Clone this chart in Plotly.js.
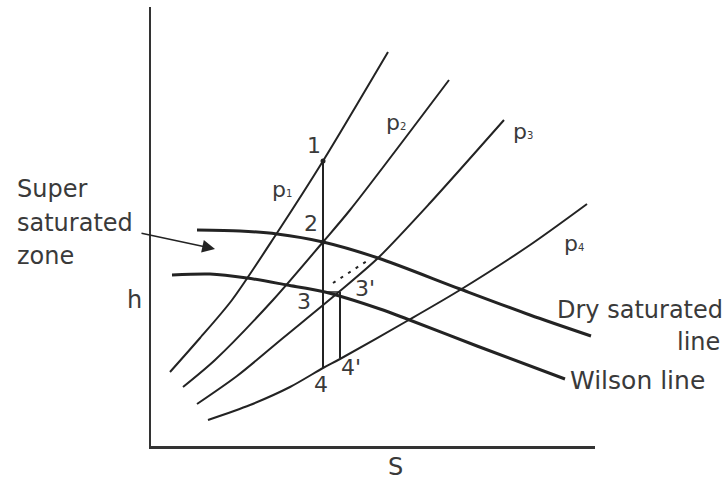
<!DOCTYPE html>
<html>
<head>
<meta charset="utf-8">
<script src="https://cdn.plot.ly/plotly-3.0.1.min.js"></script>
<style>html,body{margin:0;padding:0;background:#fff;}#chart{width:728px;height:480px;}</style>
</head>
<body>
<div id="chart"></div>
<script>
// Values (S = entropy, h = enthalpy, arbitrary units)
const p1S = [19, 49, 81, 126, 172, 237];
const p1H = [74, 108, 146, 213, 285, 394];
const p2S = [32, 64, 122, 172, 199, 298];
const p2H = [59, 86, 146, 204, 236, 366];
const p3S = [46, 86, 132, 189, 227, 279, 353];
const p3H = [42, 70, 108, 155, 188, 243, 326];
const p4S = [57, 99, 139, 172, 189, 256, 309, 379, 436];
const p4H = [26, 41, 59, 78, 87, 125, 156, 201, 242];
const drySatS = [46, 89, 126, 172, 227, 309, 379, 440];
const drySatH = [216, 215, 212, 204, 188, 157, 131, 110];
const wilsonS = [21, 59, 96, 136, 174, 229, 256, 326, 414];
const wilsonH = [171, 172, 168, 161, 154, 137, 127, 100, 67];
// process points
const statePts = {
  "1": [172, 285], "2": [172, 204], "3": [172, 154],
  "3'": [189, 154], "4": [172, 78], "4'": [189, 88]
};
const dashS = [182, 216];
const dashH = [163, 185];
// isobar label anchors (S, h) and subscripts
const pNames = ['1', '2', '3', '4'];
const pLabS = [128, 242, 369, 420];
const pLabH = [257, 323, 315, 203];
const S_MAX = 444, H_MAX = 439;

const ink = '#232323';
const txt = '#3a3a3a';
const FONT = 'DejaVu Sans, Arial, sans-serif';

function curve(x, y, w) {
  return {x: x, y: y, mode: 'lines', line: {color: ink, width: w, shape: 'spline', smoothing: 0.8}, hoverinfo: 'skip', showlegend: false};
}
function seg(a, b, w, dash) {
  return {x: [statePts[a][0], statePts[b][0]], y: [statePts[a][1], statePts[b][1]], mode: 'lines',
    line: {color: ink, width: w, dash: dash || 'solid'}, hoverinfo: 'skip', showlegend: false};
}

const traces = [
  curve(p1S, p1H, 2), curve(p2S, p2H, 2), curve(p3S, p3H, 2), curve(p4S, p4H, 2),
  curve(drySatS, drySatH, 3), curve(wilsonS, wilsonH, 3),
  seg("1", "4", 2), seg("3'", "4'", 2), seg("3", "3'", 1.5),
  {x: dashS, y: dashH, mode: 'lines', line: {color: ink, width: 2, dash: '3px,6px'}, hoverinfo: 'skip', showlegend: false},
  {x: [statePts["1"][0], statePts["2"][0]], y: [statePts["1"][1], statePts["2"][1]], mode: 'markers',
    marker: {color: ink, size: 5}, hoverinfo: 'skip', showlegend: false},
  {x: [514, 514], y: [94, 108], mode: 'lines', line: {color: '#e2e2e2', width: 1.5}, hoverinfo: 'skip', showlegend: false}
];

// labels placed in paper coordinates derived from (S, h) so they may sit outside the axes
function lab(text, s, h, size, xanchor) {
  return {text: text, x: s / S_MAX, y: h / H_MAX, xref: 'paper', yref: 'paper', showarrow: false,
    xanchor: xanchor || 'center', yanchor: 'middle', font: {family: FONT, size: size, color: txt}};
}

const annotations = [
  lab('1', 163, 301, 22), lab('2', 160, 222, 22), lab('3', 153, 145, 22),
  lab("3'", 214, 158, 22), lab('4', 170, 62, 22), lab("4'", 200, 79, 22),
  lab('Super', -136, 257, 24, 'left'), lab('saturated', -136, 223, 24, 'left'), lab('zone', -136, 190, 24, 'left'),
  lab('h', -17, 146, 24), lab('S', 244, -21, 24),
  lab('Dry saturated', 404, 136, 24, 'left'), lab('line', 571, 104, 24, 'right'),
  lab('Wilson line', 417, 66, 25, 'left'),
  {x: 64 / S_MAX, y: 197 / H_MAX, ax: -11 / S_MAX, ay: 213 / H_MAX, xref: 'paper', yref: 'paper', axref: 'paper', ayref: 'paper',
    text: '', showarrow: true, arrowhead: 2, arrowsize: 1.6, arrowwidth: 1.6, arrowcolor: ink}
];
pNames.forEach((n, i) => {
  annotations.push(lab('p', pLabS[i], pLabH[i], 22));
  annotations.push(lab(n, pLabS[i] + 10, pLabH[i] - 4, 10));
});

const layout = {
  width: 728, height: 480,
  margin: {l: 151, r: 133, t: 7, b: 34, pad: 0},
  paper_bgcolor: '#fff', plot_bgcolor: '#fff',
  showlegend: false,
  xaxis: {range: [0, S_MAX], showgrid: false, zeroline: false, showticklabels: false, ticks: '',
    showline: true, linecolor: '#333', linewidth: 2.5, fixedrange: true},
  yaxis: {range: [0, H_MAX], showgrid: false, zeroline: false, showticklabels: false, ticks: '',
    showline: true, linecolor: '#333', linewidth: 2.5, fixedrange: true},
  annotations: annotations
};

Plotly.newPlot('chart', traces, layout, {staticPlot: true, displayModeBar: false});
</script>
</body>
</html>
